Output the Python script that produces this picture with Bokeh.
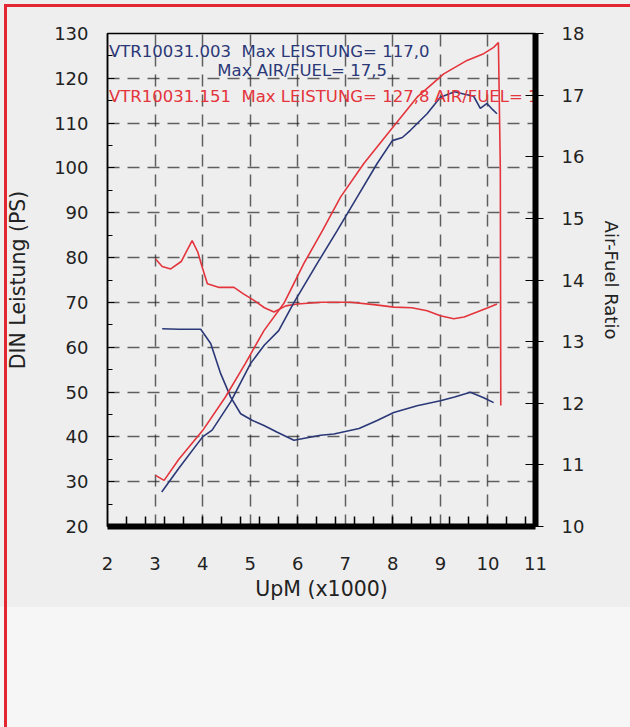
from bokeh.plotting import figure
from bokeh.models import Range1d, LinearAxis, FixedTicker, Column
from bokeh.core.properties import value
from bokeh.embed import file_html
from bokeh.resources import INLINE

# ---- data (read from the scanned dyno sheet) ----
x_ticks = [2, 3, 4, 5, 6, 7, 8, 9, 10, 11]
x_minor_ticks = [2.4, 2.8, 3.2, 3.6, 4.0, 4.4, 4.8, 5.2, 5.6, 6.0, 6.4, 6.8, 7.2, 7.6,
                 8.0, 8.4, 8.8, 9.2, 9.6, 10.0, 10.4, 10.8]
ps_ticks = [20, 30, 40, 50, 60, 70, 80, 90, 100, 110, 120, 130]
ps_minor_ticks = [25, 35, 45, 55, 65, 75, 85, 95, 105, 115, 125]
afr_ticks = [10, 11, 12, 13, 14, 15, 16, 17, 18]

# run 1 (VTR10031.003, blue): power
blue_pwr_rpm = [3.14, 3.5, 4.0, 4.2, 4.59, 5.01, 5.3, 5.6, 5.91, 6.41, 6.83, 7.25, 7.67,
                7.99, 8.2, 8.37, 8.72, 9.0, 9.3, 9.49, 9.7, 9.84, 9.98, 10.1, 10.19]
blue_pwr_ps = [27.7, 33.0, 40.0, 41.5, 47.8, 56.4, 60.5, 63.7, 69.8, 78.7, 86.0, 93.5, 101.0,
               106.1, 106.8, 108.4, 112.1, 115.8, 117.0, 116.5, 116.0, 113.3, 114.4, 113.0, 112.1]
# run 1: air/fuel ratio
blue_afr_rpm = [3.15, 3.5, 3.96, 4.17, 4.38, 4.59, 4.8, 5.05, 5.29, 5.57, 5.92, 6.06, 6.48,
                6.76, 7.29, 7.67, 8.02, 8.51, 9.0, 9.3, 9.63, 9.91, 10.12]
blue_afr = [13.21, 13.2, 13.2, 12.97, 12.48, 12.1, 11.83, 11.72, 11.64, 11.53, 11.4, 11.42, 11.48,
            11.5, 11.59, 11.72, 11.85, 11.96, 12.04, 12.1, 12.18, 12.09, 12.01]

# run 2 (VTR10031.151, red): power
red_pwr_rpm = [3.01, 3.19, 3.5, 4.0, 4.48, 4.9, 5.29, 5.71, 6.13, 6.52, 6.9, 7.39, 7.95,
               8.51, 9.07, 9.56, 9.91, 10.12, 10.22, 10.26, 10.27]
red_pwr_ps = [31.4, 30.3, 35.0, 41.4, 48.9, 56.4, 63.7, 69.8, 78.7, 86.0, 93.5, 101.0, 108.4,
              115.8, 121.0, 124.0, 125.5, 126.9, 128.0, 100.0, 47.0]
# run 2: air/fuel ratio
red_afr_rpm = [3.01, 3.15, 3.33, 3.55, 3.78, 3.9, 3.99, 4.1, 4.35, 4.66, 4.85, 5.08, 5.3,
               5.5, 5.75, 5.99, 6.5, 7.11, 7.6, 8.02, 8.4, 8.72, 9.0, 9.28, 9.5, 9.77, 10.0, 10.19]
red_afr = [14.34, 14.22, 14.18, 14.3, 14.64, 14.45, 14.21, 13.94, 13.88, 13.88, 13.78, 13.67, 13.55,
           13.48, 13.58, 13.61, 13.64, 13.64, 13.6, 13.56, 13.55, 13.5, 13.42, 13.37, 13.4, 13.48, 13.55, 13.61]

header_blue_1 = "VTR10031.003\u00a0 Max LEISTUNG= 117,0"
header_blue_2 = "Max AIR/FUEL= 17,5"
header_red = "VTR10031.151\u00a0 Max LEISTUNG= 127,8 AIR/FUEL= 17,6"

BLUE = "#2b3878"
RED = "#e4343c"
FRAME_RED = "#e3262f"
FONT = "DejaVu Sans"
INK = "#222222"

W, H = 630, 727
p = figure(width=W, height=H, x_range=Range1d(2, 11), y_range=Range1d(20, 130),
           output_backend="svg", toolbar_location=None,
           min_border_left=107, min_border_right=95, min_border_top=33, min_border_bottom=201)
p.extra_y_ranges = {"afr": Range1d(10, 18)}

p.border_fill_color = None
p.background_fill_color = None
p.outline_line_color = "black"
p.outline_line_width = 1.5

# grid
p.xgrid.ticker = FixedTicker(ticks=x_ticks[1:-1])
p.ygrid.ticker = FixedTicker(ticks=ps_ticks[1:-1])
for g in (p.xgrid, p.ygrid):
    g.grid_line_color = INK
    g.grid_line_alpha = 0.7
    g.grid_line_width = 1.5
    g.grid_line_dash = "12 8"

# bottom axis
xa = p.xaxis[0]
xa.ticker = FixedTicker(ticks=x_ticks, minor_ticks=x_minor_ticks)
xa.axis_line_width = 6
xa.axis_line_color = "black"
xa.major_tick_in = 0
xa.major_tick_out = 0
xa.minor_tick_in = 10
xa.minor_tick_out = 0
xa.minor_tick_line_width = 1.5
xa.minor_tick_line_color = "black"
xa.major_label_standoff = 30
xa.major_label_text_font = FONT
xa.major_label_text_font_size = "18px"
xa.major_label_text_color = INK
xa.axis_label = "UpM (x1000)"
xa.axis_label_text_font = FONT
xa.axis_label_text_font_size = "20.5px"
xa.axis_label_text_font_style = "normal"
xa.axis_label_text_color = INK
xa.axis_label_standoff = 4

# left axis
ya = p.yaxis[0]
ya.ticker = FixedTicker(ticks=ps_ticks, minor_ticks=ps_minor_ticks)
ya.axis_line_width = 1.5
ya.axis_line_color = "black"
ya.major_tick_in = 7
ya.major_tick_out = 0
ya.minor_tick_in = 5
ya.minor_tick_out = 0
ya.major_label_standoff = 19
ya.major_label_text_font = FONT
ya.major_label_text_font_size = "18px"
ya.major_label_text_color = INK
ya.axis_label = "DIN Leistung (PS)"
ya.axis_label_text_font = FONT
ya.axis_label_text_font_size = "20.5px"
ya.axis_label_text_font_style = "normal"
ya.axis_label_text_color = INK
ya.axis_label_standoff = 21

# right axis (air/fuel)
ra = LinearAxis(y_range_name="afr", ticker=FixedTicker(ticks=afr_ticks, num_minor_ticks=4))
ra.axis_line_width = 6
ra.axis_line_color = "black"
ra.major_tick_in = 10
ra.major_tick_out = 8
ra.minor_tick_in = 6
ra.minor_tick_out = 0
ra.major_label_standoff = 18
ra.major_label_text_font = FONT
ra.major_label_text_font_size = "18px"
ra.major_label_text_color = INK
ra.axis_label = "Air-Fuel Ratio"
ra.axis_label_text_font = FONT
ra.axis_label_text_font_size = "18px"
ra.axis_label_text_font_style = "normal"
ra.axis_label_text_color = INK
ra.axis_label_standoff = 14
p.add_layout(ra, "right")

# curves
p.line(red_afr_rpm, red_afr, y_range_name="afr", line_color=RED, line_width=1.6)
p.line(blue_afr_rpm, blue_afr, y_range_name="afr", line_color=BLUE, line_width=1.6)
p.line(blue_pwr_rpm, blue_pwr_ps, line_color=BLUE, line_width=1.6)
p.line(red_pwr_rpm, red_pwr_ps, line_color=RED, line_width=1.6)

# header texts (inside the plot, clipped at the frame)
p.text(x=[2.03], y=[126.0], text=[header_blue_1], text_color=BLUE, text_font=value(FONT),
       text_font_size="16.5px", text_baseline="middle")
p.text(x=[4.31], y=[121.7], text=[header_blue_2], text_color=BLUE, text_font=value(FONT),
       text_font_size="16.5px", text_baseline="middle")
p.text(x=[2.03], y=[115.9], text=[header_red], text_color=RED, text_font=value(FONT),
       text_font_size="16.5px", text_baseline="middle")

# page: scanned-sheet background with red edge at top and left
page = Column(p, width=W, height=H, styles={
    "background": (
        f"linear-gradient({FRAME_RED}, {FRAME_RED}) 4px 4px / 3px {H - 4}px no-repeat, "
        f"linear-gradient({FRAME_RED}, {FRAME_RED}) 4px 4px / {W - 4}px 3px no-repeat, "
        "linear-gradient(to bottom, #eeeeee 0px, #eeeeee 607px, #f6f6f6 607px, #f6f6f6 100%)"
    )
})

open("out.html", "w").write(file_html(page, INLINE))
